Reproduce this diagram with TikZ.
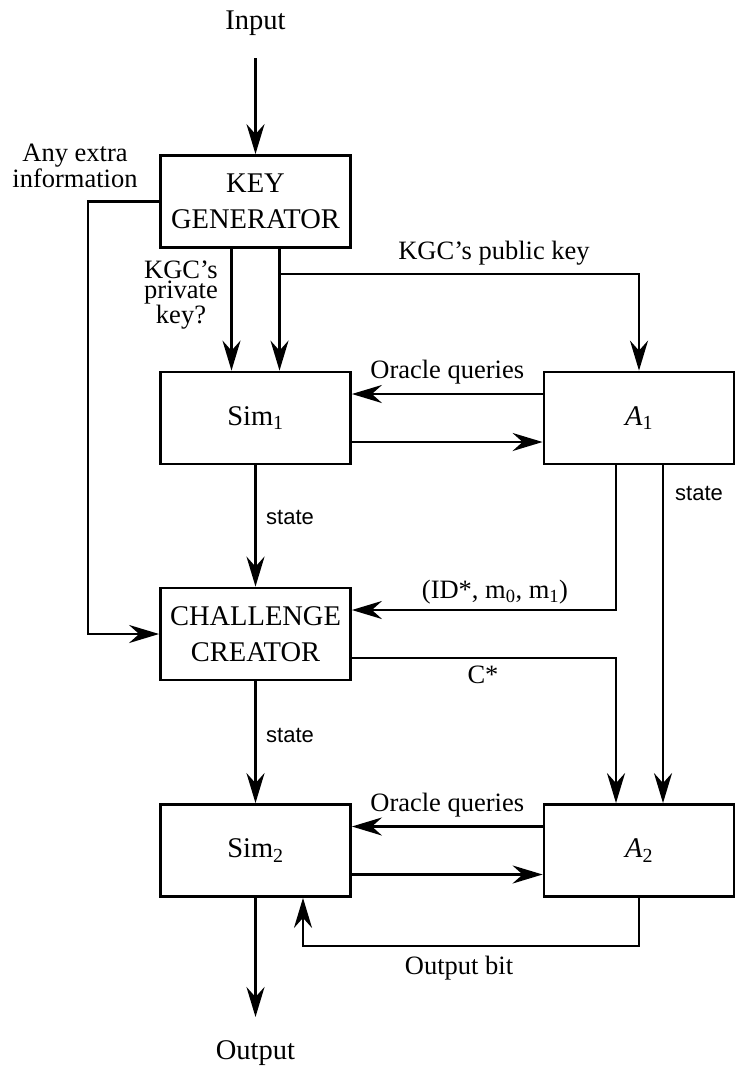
\documentclass[tikz,border=0pt]{standalone}
\usepackage{fontspec}
\setmainfont{Liberation Serif}
\setsansfont{Liberation Sans}
\usetikzlibrary{arrows.meta}

\begin{document}
\begin{tikzpicture}[x=1pt, y=-1pt,
	blk/.style={draw, line width=2.8pt, minimum width=190pt, minimum height=92pt, inner sep=0pt, align=center, font=\fontsize{28.5}{36}\selectfont},
	lbl/.style={inner sep=0pt, align=center, font=\fontsize{26.5}{17.5}\selectfont},
	slbl/.style={inner sep=0pt, font=\sffamily\fontsize{22}{26}\selectfont},
	arr/.style={line width=2.8pt, -{Stealth[length=30pt, width=18pt, inset=10pt]}}]

	\useasboundingbox (0,0) rectangle (743,1074);

	% boxes
	\node[blk] (keygen) at (255.5,201.5) {KEY\\GENERATOR};
	\node[blk] (sim1) at (255.5,418) {Sim\textsubscript{1}};
	\node[blk] (a1) at (639,418) {\textit{A}\textsubscript{1}};
	\node[blk] (chal) at (255.5,634) {CHALLENGE\\CREATOR};
	\node[blk] (sim2) at (255.5,850.5) {Sim\textsubscript{2}};
	\node[blk] (a2) at (639,850.5) {\textit{A}\textsubscript{2}};

	% free texts
	\node[lbl, font=\fontsize{28.5}{34}\selectfont] (input) at (255.5,23) {Input};
	\node[lbl, font=\fontsize{28.5}{34}\selectfont] (output) at (255.5,1053) {Output};
	\node[lbl, font=\fontsize{26.5}{19}\selectfont] (extra) at (75,166) {Any extra\\information};
	\node[lbl, font=\fontsize{26.5}{20}\selectfont] (priv) at (181,295) {KGC’s\\private\\key?};
	\node[lbl] (pub) at (494,253) {KGC’s public key};
	\node[lbl] (chosen) at (495,592) {(ID*, m\textsubscript{0}, m\textsubscript{1})};
	\node[lbl] (cstar) at (483,675) {C*};
	\node[lbl] (obit) at (459,968) {Output bit};
	\node[slbl] (st1) at (290,517) {state};
	\node[slbl] (st2) at (699,493) {state};
	\node[slbl] (st3) at (290,735) {state};

	\coordinate (inend) at (255.5,58);
	\coordinate (outend) at (255.5,1017);
	\coordinate (pkfork) at (279.5,274);
	\coordinate (xtra) at (88,201.5);

	\draw[arr] (inend) -- (keygen);
	\draw[arr] ([xshift=-24pt]keygen.south) -- ([xshift=-24pt]sim1.north);
	\draw[arr] ([xshift=24pt]keygen.south) -- ([xshift=24pt]sim1.north);
	\draw[arr] (pkfork) -| (a1);
	\draw[arr] (keygen.west) -- (xtra) |- (chal.west);

	\foreach \s/\a in {sim1/a1, sim2/a2}
	{
		\draw[arr] ([yshift=24pt]\a.west) -- node[lbl, midway, above=8pt] (oq\s) {Oracle queries} ([yshift=24pt]\s.east);
		\draw[arr] ([yshift=-24pt]\s.east) -- ([yshift=-24pt]\a.west);
	}

	\draw[arr] (sim1) -- (chal);
	\draw[arr] (chal) -- (sim2);
	\draw[arr] ([xshift=-23pt]a1.south) |- ([yshift=24pt]chal.east);
	\draw[arr] ([xshift=24pt]a1.south) -- ([xshift=24pt]a2.north);
	\draw[arr] ([yshift=-24pt]chal.east) -| ([xshift=-23pt]a2.north);
	\draw[arr] (a2.south) -- ++(0,48) -| ([xshift=47.5pt]sim2.south);
	\draw[arr] (sim2) -- (outend);

\end{tikzpicture}
\end{document}
